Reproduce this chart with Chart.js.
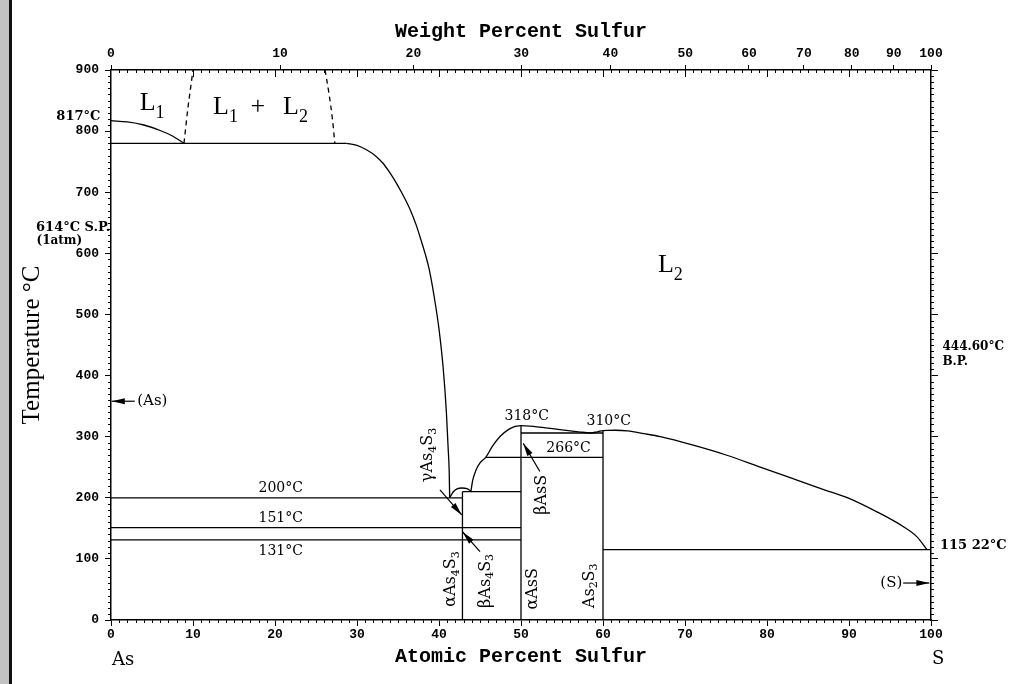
<!DOCTYPE html>
<html>
<head>
<meta charset="utf-8">
<title>As-S phase diagram</title>
<script src="https://cdn.jsdelivr.net/npm/chart.js@4.4.1/dist/chart.umd.min.js"></script>
<style>
  html, body { margin: 0; padding: 0; background: #fff; }
  #wrap { position: relative; width: 1025px; height: 684px; overflow: hidden; }
  #chart { position: absolute; left: 0; top: 0; }
  #strip { position: absolute; left: 0; top: 0; width: 9px; height: 684px; background: #c2c2c2; border-right: 3px solid #111; }
</style>
</head>
<body>
<div id="wrap">
  <canvas id="chart" width="1025" height="684"></canvas>
  <div id="strip"></div>
</div>
<script>
// As-S phase diagram
// x = atomic percent sulfur, y = temperature (°C)

// Liquid boundaries
const liquidusL1 = [[0, 817], [2, 815], [4, 810], [6, 801], [7.5, 792], [8.9, 780]];
const gapLeft = [[8.9, 780], [9.4, 840], [9.7, 870], [10, 900]];
const gapRight = [[26.1, 900], [26.6, 860], [27.0, 820], [27.3, 780]];
const liquidusL2 = [[28.7, 780], [30, 776.5], [31.2, 769], [32.3, 759], [33.2, 747], [34, 732],
    [34.8, 715], [35.7, 693], [36.5, 671], [37.2, 647], [37.8, 622], [38.3, 600], [38.8, 574],
    [39.4, 530], [40.0, 476], [40.5, 414], [40.9, 340], [41.1, 285], [41.25, 240], [41.3, 200]];
const domeAs4S3 = [[41.3, 200], [41.7, 209], [42.2, 214.5], [42.8, 216], [43.4, 215], [43.9, 211]];
const liquidusAsS = [[43.9, 211], [44.1, 228], [44.5, 245], [45, 257], [45.7, 266], [46.5, 284],
    [47.5, 301], [48.5, 312], [49.3, 317], [50, 318]];
const liquidusAsS2 = [[50, 318], [51.5, 317], [53, 314.5], [55, 311], [57, 308], [58.5, 306],
    [59.3, 308], [60, 310]];
const liquidusAs2S3 = [[60, 310], [61.5, 310.5], [63, 309.5], [65, 305], [67, 300], [71, 286],
    [75, 270], [79, 251], [83, 232], [87, 213], [90, 199], [93.4, 177], [96.6, 153],
    [98.3, 136], [99.5, 115]];

// Invariant (horizontal) lines
const monotectic = [[0, 780], [28.7, 780]];
const line200 = [[0, 200], [42.86, 200]];
const line151 = [[0, 151], [50, 151]];
const line131 = [[0, 131], [50, 131]];
const line210 = [[42.86, 210], [50, 210]];
const line266 = [[45.7, 266], [60, 266]];
const line306 = [[50, 306], [60, 306]];
const line115 = [[60, 115], [100, 115]];

// Compound (vertical) lines
const phaseAs4S3 = [[42.86, 0], [42.86, 210]];
const phaseAsS = [[50, 0], [50, 318]];
const phaseAs2S3 = [[60, 0], [60, 310]];

// Axis ticks
const wtTicks = [0, 10, 20, 30, 40, 50, 60, 70, 80, 90, 100];

const SERIF = "'DejaVu Serif', serif";
const LSERIF = "'Liberation Serif', serif";
const MONO = "'Liberation Mono', monospace";

// weight % S -> atomic % S
function wtToAt(w) {
    const s = w / 32.06, a = (100 - w) / 74.92;
    return 100 * s / (s + a);
}

const toXY = pts => pts.map(([x, y]) => ({ x, y }));

function seg(pts, opts = {}) {
    return Object.assign({
        data: toXY(pts),
        showLine: true,
        borderColor: '#000',
        borderWidth: 1.3,
        pointRadius: 0,
        tension: 0,
        fill: false
    }, opts);
}

const curve = { cubicInterpolationMode: 'monotone' };
const dashed = { borderDash: [5, 4], cubicInterpolationMode: 'monotone' };

const datasets = [
    seg(liquidusL1, curve),
    seg(gapLeft, dashed),
    seg(gapRight, dashed),
    seg(liquidusL2, curve),
    seg(domeAs4S3, curve),
    seg(liquidusAsS, curve),
    seg(liquidusAsS2, curve),
    seg(liquidusAs2S3, curve),
    seg(monotectic),
    seg(line200),
    seg(line151),
    seg(line131),
    seg(line210),
    seg(line266),
    seg(line306),
    seg(line115),
    seg(phaseAs4S3),
    seg(phaseAsS),
    seg(phaseAs2S3)
];

// Text notes (data coordinates)
const flatNotes = [
    { parts: [['200°C']], x: 20.7, y: 215, size: 14 },
    { parts: [['151°C']], x: 20.7, y: 166, size: 14 },
    { parts: [['131°C']], x: 20.7, y: 113, size: 14 },
    { parts: [['318°C']], x: 50.7, y: 333, size: 14 },
    { parts: [['310°C']], x: 60.7, y: 325, size: 14 },
    { parts: [['266°C']], x: 55.8, y: 281, size: 14 },
    { parts: [['L'], ['1', 1]], x: 3.5, y: 834, size: 26, family: LSERIF, base: true, align: 'left' },
    { parts: [['L'], ['1', 1]], x: 12.44, y: 828, size: 26, family: LSERIF, base: true, align: 'left' },
    { parts: [['+']], x: 17.9, y: 828, size: 26, family: LSERIF, base: true },
    { parts: [['L'], ['2', 1]], x: 20.98, y: 828, size: 26, family: LSERIF, base: true, align: 'left' },
    { parts: [['L'], ['2', 1]], x: 66.7, y: 569, size: 26, family: LSERIF, base: true, align: 'left' },
    { parts: [['817°C']], x: -1.3, y: 823, size: 13, weight: 'bold', align: 'right' },
    { parts: [['614°C S.P.']], x: -0.1, y: 642, size: 13, weight: 'bold', align: 'right' },
    { parts: [['(1atm)']], x: -6.3, y: 620, size: 12, weight: 'bold' },
    { parts: [['444.60°C']], x: 101.4, y: 447, size: 12, weight: 'bold', align: 'left' },
    { parts: [['B.P.']], x: 101.4, y: 423, size: 12, weight: 'bold', align: 'left' },
    { parts: [['115 22°C']], x: 101.1, y: 122, size: 13, weight: 'bold', align: 'left' },
    { parts: [['(As)']], x: 3.2, y: 358, size: 15, align: 'left' },
    { parts: [['(S)']], x: 96.5, y: 60.5, size: 15, align: 'right' }
];

const phaseNotes = [
    { parts: [['γAs'], ['4', 1], ['S'], ['3', 1]], x: 38.66, y: 270 },
    { parts: [['αAs'], ['4', 1], ['S'], ['3', 1]], x: 41.5, y: 67 },
    { parts: [['βAs'], ['4', 1], ['S'], ['3', 1]], x: 45.7, y: 64 },
    { parts: [['αAsS']], x: 51.5, y: 51 },
    { parts: [['As'], ['2', 1], ['S'], ['3', 1]], x: 58.35, y: 56 },
    { parts: [['βAsS']], x: 52.5, y: 205 }
];

// [tailX, tailY, tipX, tipY] in data coordinates
const arrows = [
    [40.12, 213, 42.77, 172],
    [45.0, 112, 42.89, 144],
    [52.3, 243, 50.28, 289],
    [2.9, 358, 0.1, 358],
    [96.6, 60.5, 99.8, 60.5]
];

function drawRich(ctx, parts, px, py, o) {
    const size = o.size, sub = Math.round(size * 0.68);
    const fam = o.family || SERIF;
    const weight = o.weight || 'normal';
    const fontFor = s => `${weight} ${s ? sub : size}px ${fam}`;
    let total = 0;
    const widths = parts.map(([t, s]) => {
        ctx.font = fontFor(s);
        const w = ctx.measureText(t).width;
        total += w;
        return w;
    });
    ctx.save();
    ctx.translate(px, py);
    if (o.rotate) ctx.rotate(o.rotate);
    ctx.fillStyle = '#000';
    ctx.textAlign = 'left';
    ctx.textBaseline = o.base ? 'alphabetic' : 'middle';
    let cx = o.align === 'left' ? 0 : o.align === 'right' ? -total : -total / 2;
    parts.forEach(([t, s], i) => {
        ctx.font = fontFor(s);
        ctx.fillText(t, cx, s ? size * 0.3 : 0);
        cx += widths[i];
    });
    ctx.restore();
}

function drawArrow(ctx, x0, y0, x1, y1) {
    const ang = Math.atan2(y1 - y0, x1 - x0);
    ctx.save();
    ctx.strokeStyle = '#000';
    ctx.fillStyle = '#000';
    ctx.lineWidth = 1.2;
    ctx.beginPath();
    ctx.moveTo(x0, y0);
    ctx.lineTo(x1, y1);
    ctx.stroke();
    ctx.translate(x1, y1);
    ctx.rotate(ang);
    ctx.beginPath();
    ctx.moveTo(0, 0);
    ctx.lineTo(-13, -3);
    ctx.lineTo(-13, 3);
    ctx.closePath();
    ctx.fill();
    ctx.restore();
}

const decorations = {
    id: 'decorations',
    afterDraw(chart) {
        const { ctx, chartArea: area, scales: { x, y } } = chart;
        ctx.save();
        ctx.strokeStyle = '#000';
        ctx.lineWidth = 1;
        ctx.beginPath();
        // minor ticks on atomic % axes (bottom outward, top inward)
        for (let v = 1; v < 100; v++) {
            const px = Math.round(x.getPixelForValue(v)) + 0.5;
            const long = v % 10 === 0;
            if (!long) {
                ctx.moveTo(px, area.bottom);
                ctx.lineTo(px, area.bottom + 3);
            }
            ctx.moveTo(px, area.top);
            ctx.lineTo(px, area.top + (long ? 7 : 3));
        }
        // minor temperature ticks, left and right
        for (let t = 10; t < 900; t += 10) {
            if (t % 100 === 0) continue;
            const py = Math.round(y.getPixelForValue(t)) + 0.5;
            ctx.moveTo(area.left - 3, py);
            ctx.lineTo(area.left, py);
            ctx.moveTo(area.right, py);
            ctx.lineTo(area.right + 3, py);
        }
        ctx.stroke();
        ctx.restore();

        flatNotes.forEach(n => {
            drawRich(ctx, n.parts, x.getPixelForValue(n.x), y.getPixelForValue(n.y), n);
        });
        phaseNotes.forEach(n => {
            drawRich(ctx, n.parts, x.getPixelForValue(n.x), y.getPixelForValue(n.y),
                { size: 16, rotate: -Math.PI / 2 });
        });
        arrows.forEach(([x0, y0, x1, y1]) => {
            drawArrow(ctx, x.getPixelForValue(x0), y.getPixelForValue(y0),
                x.getPixelForValue(x1), y.getPixelForValue(y1));
        });

        // end-member labels under the bottom axis
        drawRich(ctx, [['As']], x.getPixelForValue(0) + 1, area.bottom + 40, { size: 18, align: 'left' });
        drawRich(ctx, [['S']], x.getPixelForValue(100) + 1, area.bottom + 39, { size: 18, align: 'left' });
    }
};

const tickFont = { family: MONO, size: 13, weight: 'bold' };
const frame = { display: true, color: '#000', width: 1.5 };

new Chart(document.getElementById('chart'), {
    type: 'scatter',
    data: { datasets },
    options: {
        responsive: false,
        animation: false,
        layout: { padding: 0 },
        plugins: { legend: { display: false }, tooltip: { enabled: false } },
        scales: {
            x: {
                type: 'linear', position: 'bottom', min: 0, max: 100,
                ticks: { stepSize: 10, font: tickFont, color: '#000', padding: 1, maxRotation: 0 },
                grid: { drawOnChartArea: false, tickLength: 6, color: '#000' },
                border: frame,
                title: { display: true, text: 'Atomic Percent Sulfur', color: '#000',
                    font: { family: MONO, size: 20, weight: 'bold' }, padding: { bottom: 15 } },
                afterFit: s => { s.height = 64; }
            },
            xTop: {
                type: 'linear', axis: 'x', position: 'top', min: 0, max: 100,
                afterBuildTicks: s => { s.ticks = wtTicks.map(w => ({ value: wtToAt(w) })); },
                ticks: { font: tickFont, color: '#000', padding: 3, autoSkip: false, maxRotation: 0,
                    callback: (v, i) => wtTicks[i] },
                grid: { drawOnChartArea: false, tickLength: 5, color: '#000' },
                border: frame,
                title: { display: true, text: 'Weight Percent Sulfur', color: '#000',
                    font: { family: MONO, size: 20, weight: 'bold' }, padding: { top: 20 } },
                afterFit: s => { s.height = 70; }
            },
            y: {
                type: 'linear', position: 'left', min: 0, max: 900,
                ticks: { stepSize: 100, font: tickFont, color: '#000', padding: 6 },
                grid: { drawOnChartArea: false, tickLength: 6, color: '#000' },
                border: frame,
                title: { display: true, text: 'Temperature °C', color: '#000',
                    font: { family: LSERIF, size: 25 }, padding: { top: 17 } },
                afterFit: s => { s.width = 111; }
            },
            yRight: {
                type: 'linear', axis: 'y', position: 'right', min: 0, max: 900,
                ticks: { stepSize: 100, display: false },
                grid: { drawOnChartArea: false, tickLength: 7, color: '#000' },
                border: frame,
                afterFit: s => { s.width = 94; }
            }
        }
    },
    plugins: [decorations]
});
</script>
</body>
</html>
